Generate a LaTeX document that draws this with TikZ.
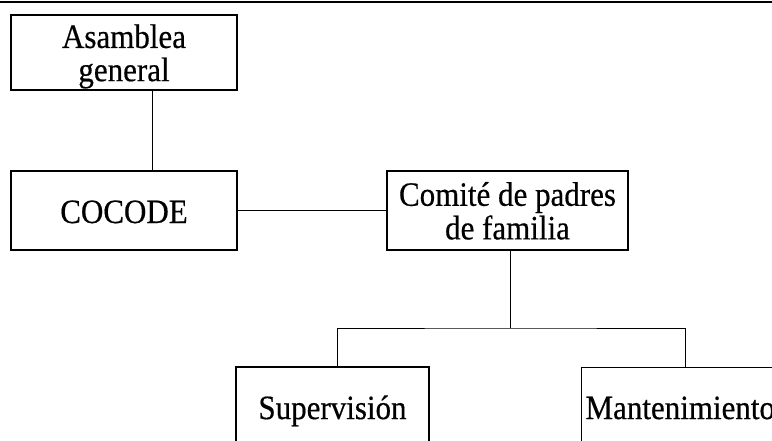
\documentclass[tikz,border=0pt]{standalone}
\usepackage{fontspec}
\setmainfont{Liberation Serif}
\newfontfamily\scanfont[FakeBold=0.5]{Liberation Serif}
\newcommand{\stxt}[2][c]{\raisebox{-5pt}[\height][\depth]{\scalebox{1}[1.1]{\scanfont\fontsize{31}{29}\selectfont\begin{tabular}{@{}#1@{}}#2\end{tabular}}}}
\begin{document}
\begin{tikzpicture}[x=1pt,y=-1pt,
  box/.style={draw=black, line width=1.1pt, inner sep=0pt, align=center},
  link/.style={draw=black, line width=0.9pt},
  rule/.style={draw=black, line width=1.6pt}]
\useasboundingbox (0,0) rectangle (772,440);
\clip (0,0) rectangle (772,440);
\coordinate (ruleL) at (0,2);
\coordinate (ruleR) at (772,2);
\draw[rule] (ruleL) -- (ruleR);
\node[box, minimum width=226pt, minimum height=75pt] (asam) at (124,52.5) {\stxt{Asamblea\\general}};
\node[box, minimum width=226pt, minimum height=79pt] (cocode) at (124,210.5) {\raisebox{-1pt}[\height][\depth]{\stxt{COCODE}}};
\node[box, minimum width=241pt, minimum height=79pt] (comite) at (507.5,210.5) {\stxt{Comité de padres\\de familia}};
\node[box, minimum width=193pt, minimum height=80pt] (sup) at (332.5,407) {\stxt{Supervisión}};
\node[box, anchor=north west, minimum height=80pt, text width=200pt, align=left, inner xsep=4pt] (mant) at (581,367) {\stxt[l]{Mantenimiento}};
\coordinate (fork) at (510,328);
\draw[link] ([xshift=28pt]asam.south) -- ([xshift=28pt]cocode.north);
\draw[link] (cocode.east) -- (comite.west);
\draw[link] ([xshift=2.5pt]comite.south) -- (fork);
\draw[link] ([xshift=4.5pt]sup.north) |- (fork) -| (mant.north);
\end{tikzpicture}
\end{document}
